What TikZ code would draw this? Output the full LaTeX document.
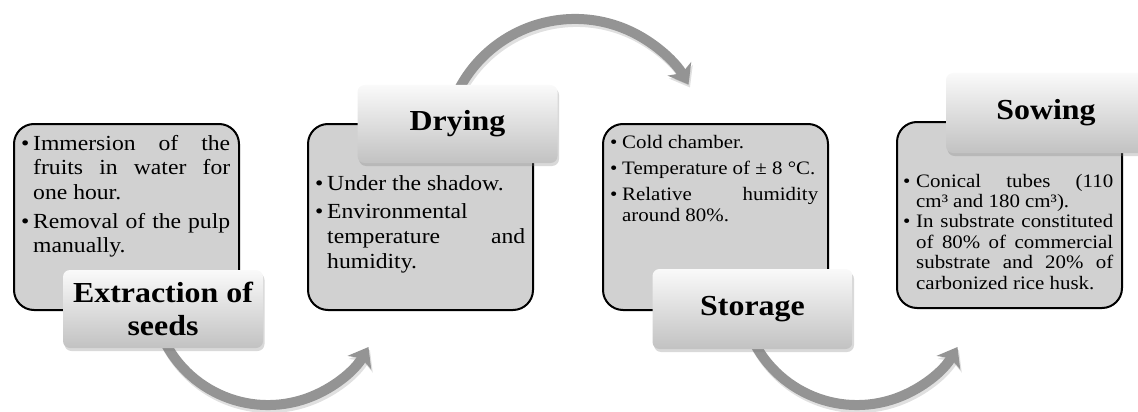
\documentclass[tikz,border=0pt]{standalone}
\usepackage{fontspec}
\setmainfont{Liberation Serif}[FakeStretch=1.1]
\usetikzlibrary{arrows.meta,shadows}
\newcommand\bitem[2][12pt]{\hangindent=#1\relax\hangafter=1\relax\noindent\makebox[#1][l]{\textbullet}#2\par}
\hyphenpenalty=10000
\exhyphenpenalty=10000
\tolerance=9999
\setlength{\parindent}{0pt}
\begin{document}
\begin{tikzpicture}[x=1pt,y=1pt]
\tikzset{
  lbl/.style={rounded corners=7pt, top color=black!2, bottom color=black!24,
    drop shadow={shadow xshift=1.5pt, shadow yshift=-3pt, opacity=0.3},
    minimum width=200pt, minimum height=78pt, inner sep=0pt, align=center,
    font=\fontsize{29}{33}\selectfont\bfseries},
  infobox/.style={draw=black, line width=2pt, fill=black!18, rounded corners=20pt,
    inner sep=0pt, anchor=north west, minimum width=225pt, minimum height=186pt},
  body/.style={anchor=base west, inner sep=0pt, align=justify},
  conn/.style={line width=10pt, draw=black!42, -{Stealth[length=18pt,width=27pt,inset=5pt]}},
  connshadow/.style={line width=10pt, draw=black, opacity=0.12, -{Stealth[length=18pt,width=27pt,inset=5pt]}}
}
\useasboundingbox (0,0) rectangle (1138,-412);
% connector start points (hidden under the labels)
\coordinate (a1s) at (159.0,-328.7);
\coordinate (a2s) at (458.3,-90.5);
\coordinate (a3s) at (748.0,-328.7);
\coordinate (a1sh) at (160.5,-331.7);
\coordinate (a2sh) at (459.8,-93.5);
\coordinate (a3sh) at (749.5,-331.7);
% shadows of connectors
\draw[connshadow] (a1sh) arc[start angle=200, end angle=330, radius=116];
\draw[connshadow] (a2sh) arc[start angle=153, end angle=30, radius=131];
\draw[connshadow] (a3sh) arc[start angle=200, end angle=330, radius=116];
% connectors
\draw[conn] (a1s) arc[start angle=200, end angle=330, radius=116];
\draw[conn] (a2s) arc[start angle=153, end angle=30, radius=131];
\draw[conn] (a3s) arc[start angle=200, end angle=330, radius=116];
% info boxes
\node[infobox] (b1) at (13,-123) {};
\node[infobox] (b2) at (307,-123) {};
\node[infobox] (b3) at (602,-123) {};
\node[infobox] (b4) at (896,-121) {};
% texts
\node[body, text width=209pt, font=\fontsize{21.5}{24.5}\selectfont\setlength\parindent{0pt}\setlength\parskip{4.5pt}] (t1) at (21,-150)
  {\bitem{Immersion of the\linebreak fruits in water for\linebreak one hour.}\bitem{Removal of the pulp\linebreak manually.}};
\node[body, text width=210pt, font=\fontsize{21.5}{25}\selectfont\setlength\parindent{0pt}\setlength\parskip{3pt}] (t2) at (315,-190)
  {\bitem{Under the shadow.}\bitem{Environmental\newline temperature and\linebreak humidity.}};
\node[body, text width=208pt, font=\fontsize{19}{21.5}\selectfont\setlength\parindent{0pt}\setlength\parskip{4.5pt}] (t3) at (610,-148)
  {\bitem{Cold chamber.}\bitem{Temperature of ± 8 °C.}\bitem{Relative humidity\linebreak around 80\%.}};
\node[body, text width=210pt, font=\fontsize{19}{20.4}\selectfont\setlength\parindent{0pt}\setlength\parskip{0pt}] (t4) at (903,-187)
  {\bitem[13pt]{Conical tubes (110\linebreak cm³ and 180 cm³).}\bitem[13pt]{In substrate constituted\linebreak of 80\% of commercial\linebreak substrate and 20\% of\linebreak carbonized rice husk.}};
% labels
\node[lbl] (l1) at (163,-309) {Extraction of\\seeds};
\node[lbl] (l2) at (457.5,-124) {Drying};
\node[lbl, minimum height=80pt] (l3) at (752.5,-309) {Storage};
\node[lbl, minimum height=80pt] (l4) at (1046,-113) {Sowing};
\end{tikzpicture}
\end{document}
